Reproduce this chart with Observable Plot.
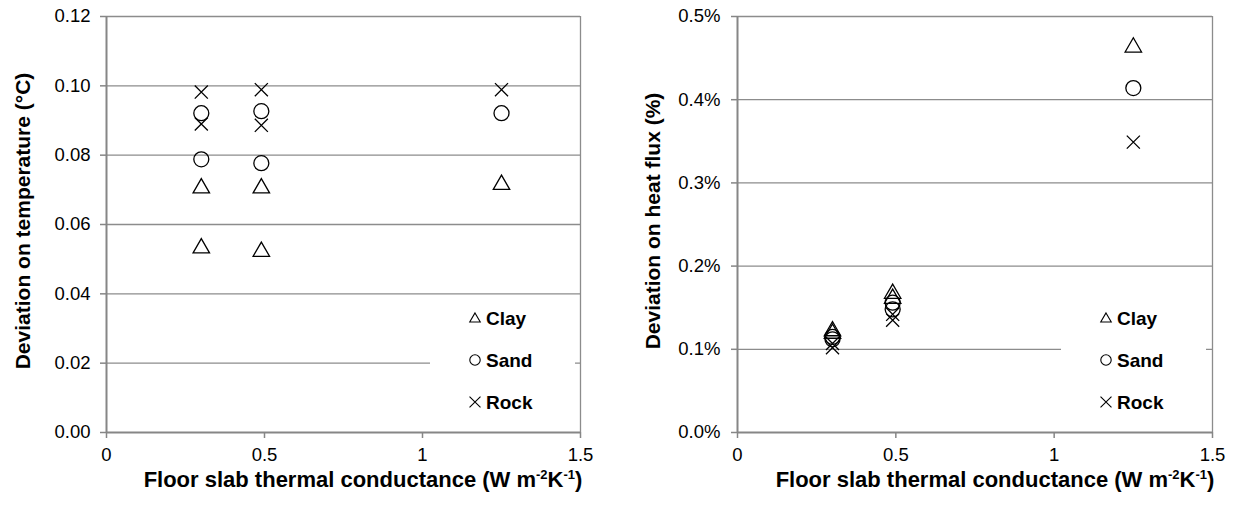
<!DOCTYPE html>
<html>
<head>
<meta charset="utf-8">
<script src="https://cdn.jsdelivr.net/npm/d3@7"></script>
<script src="https://cdn.jsdelivr.net/npm/@observablehq/plot@0.6"></script>
<style>
  html, body { margin: 0; padding: 0; background: white; }
  #wrap { display: flex; width: 1233px; height: 510px; }
  #wrap svg { max-width: none !important; }
</style>
</head>
<body>
<div id="wrap"></div>
<script>
// ---- data ----
const conductance = [0.3, 0.3, 0.49, 0.49, 1.25];
const soils = ["Clay", "Sand", "Rock"];
const soilSymbols = ["triangle", "circle", "times"];

// Deviation on temperature (°C)
const tempClay = [0.0705, 0.0532, 0.0705, 0.0522, 0.0715];
const tempSand = [0.0921, 0.0788, 0.0927, 0.0777, 0.0921];
const tempRock = [0.0982, 0.0890, 0.0989, 0.0886, 0.0989];

// Deviation on heat flux (%)
const fluxClay = [0.122, 0.119, 0.167, 0.161, 0.463];
const fluxSand = [0.115, 0.112, 0.156, 0.148, 0.414];
const fluxRock = [0.107, 0.102, 0.142, 0.135, 0.349];

const xTicks = [0, 0.5, 1, 1.5];
const tempTicks = [0, 0.02, 0.04, 0.06, 0.08, 0.10, 0.12];
const fluxTicks = [0, 0.1, 0.2, 0.3, 0.4, 0.5];

const xTitleText = "Floor slab thermal conductance (W m";
const tempTitle = "Deviation on temperature (°C)";
const fluxTitle = "Deviation on heat flux (%)";

// ---- styles ----
const FONT = "'Liberation Sans', Arial, Helvetica, sans-serif";
const GRID = "#8c8c8c";
const AXIS = "#868686";
const symbolR = {triangle: 6.1, circle: 7.5, times: 6};

function rows(vals) { return conductance.map((k, i) => ({k, v: vals[i]})); }

function makePanel(cfg) {
  const series = [cfg.clay, cfg.sand, cfg.rock];
  const svg = Plot.plot({
    width: cfg.width, height: 510,
    marginLeft: cfg.ml, marginRight: cfg.mr, marginTop: 16, marginBottom: 78,
    style: {fontFamily: FONT, fontSize: "18px", color: "black", background: "white", overflow: "visible"},
    x: {domain: [0, 1.5]},
    y: {domain: cfg.domain},
    marks: [
      Plot.gridY(cfg.ticks.slice(1), {stroke: GRID, strokeOpacity: 1, strokeWidth: 1.3}),
      Plot.ruleX([1.5], {stroke: GRID, strokeWidth: 1.3}),
      Plot.axisY(cfg.ticks, {tickFormat: cfg.fmt, tickSize: 6, tickPadding: cfg.tp, stroke: AXIS, strokeWidth: 1.5, fill: "black", fontSize: 18.5, label: null}),
      Plot.axisX(xTicks, {tickFormat: d => String(d), tickSize: 6, tickPadding: 9, stroke: AXIS, strokeWidth: 1.5, fill: "black", fontSize: 18.5, label: null}),
      Plot.ruleX([0], {stroke: AXIS, strokeWidth: 2}),
      Plot.ruleY([0], {stroke: AXIS, strokeWidth: 2}),
      ...series.map((vals, i) => Plot.dot(rows(vals), {
        x: "k", y: "v", symbol: () => soilSymbols[i], r: symbolR[soilSymbols[i]],
        stroke: "black", strokeWidth: 1.3, fill: "none"
      }))
    ]
  });
  const s = d3.select(svg);
  // legend box
  const lg = s.append("g").attr("font-family", FONT).attr("text-anchor", "start");
  lg.append("rect").attr("x", cfg.legX - 45).attr("y", 298).attr("width", 145).attr("height", 122).attr("fill", "white");
  const ys = [318, 360, 402];
  const legSym = [d3.symbolTriangle, d3.symbolCircle, d3.symbolTimes];
  const legSize = [48, 85, 80];
  soils.forEach((name, i) => {
    lg.append("path")
      .attr("d", d3.symbol(legSym[i], legSize[i])())
      .attr("transform", `translate(${cfg.legX},${ys[i] + (i === 0 ? 1 : 0)})`)
      .attr("fill", "none").attr("stroke", "black").attr("stroke-width", 1.1);
    lg.append("text")
      .attr("x", cfg.legX + 11).attr("y", ys[i]).attr("dy", "0.35em")
      .attr("text-anchor", "start")
      .attr("font-size", 19).attr("font-weight", "bold").attr("fill", "black")
      .text(name);
  });
  // y title
  s.append("text")
    .attr("transform", `translate(${cfg.ytx},221) rotate(-90)`)
    .attr("text-anchor", "middle").attr("dy", "0.35em")
    .attr("font-family", FONT).attr("font-size", 21).attr("font-weight", "bold").attr("fill", "black")
    .text(cfg.ytitle);
  // x title with superscripts
  const t = s.append("text")
    .attr("x", cfg.xtx).attr("y", 487)
    .attr("text-anchor", "middle")
    .attr("font-family", FONT).attr("font-size", 22).attr("font-weight", "bold").attr("fill", "black");
  t.append("tspan").text(xTitleText);
  t.append("tspan").attr("font-size", 13).attr("dy", -8).text("-2");
  t.append("tspan").attr("dy", 8).text("K");
  t.append("tspan").attr("font-size", 13).attr("dy", -8).text("-1");
  t.append("tspan").attr("dy", 8).text(")");
  return svg;
}

const wrap = document.getElementById("wrap");
wrap.appendChild(makePanel({
  width: 616, ml: 106, mr: 36, domain: [0, 0.12], ticks: tempTicks, fmt: d => d.toFixed(2), tp: 10,
  clay: tempClay, sand: tempSand, rock: tempRock, legX: 475, ytx: 23, ytitle: tempTitle, xtx: 363
}));
wrap.appendChild(makePanel({
  width: 617, ml: 121, mr: 21, domain: [0, 0.5], ticks: fluxTicks, fmt: d => d.toFixed(1) + "%", tp: 11,
  clay: fluxClay, sand: fluxSand, rock: fluxRock, legX: 490, ytx: 37, ytitle: fluxTitle, xtx: 379
}));
</script>
</body>
</html>
